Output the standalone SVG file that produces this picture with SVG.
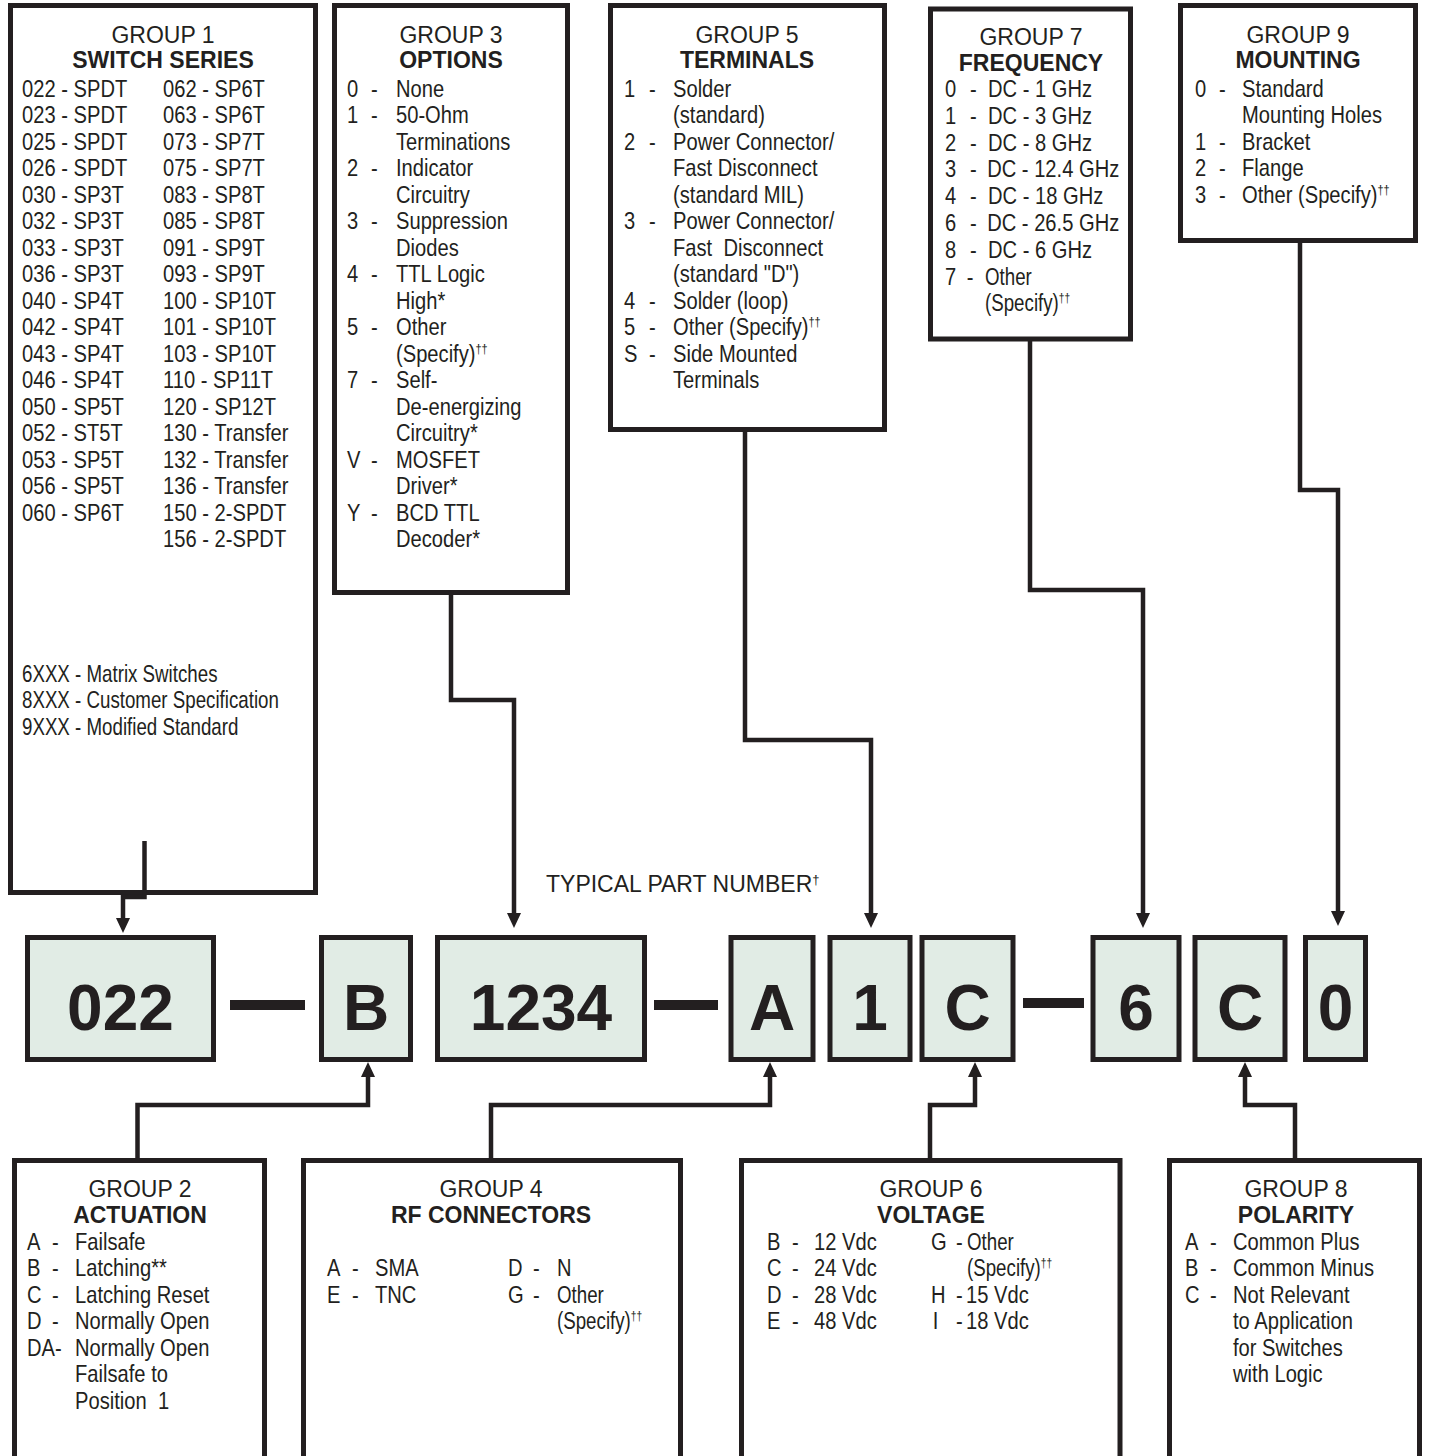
<svg xmlns="http://www.w3.org/2000/svg" width="1429" height="1456" viewBox="0 0 1429 1456">
<defs>
<style>
.box{fill:#fff;stroke:#231f20;stroke-width:5}
.pbox{fill:#e1ece5;stroke:#231f20;stroke-width:5}
.conn{fill:none;stroke:#231f20;stroke-width:4.5;stroke-linejoin:miter}
.bar{fill:#231f20}
.h{font-family:"Liberation Sans",Arial,sans-serif;font-size:23px;text-anchor:middle;fill:#231f20}
.hb{font-weight:bold}
.t{font-family:"Liberation Sans",Arial,sans-serif;font-size:24px;fill:#231f20}
.big{font-family:"Liberation Sans",Arial,sans-serif;font-weight:bold;font-size:64px;text-anchor:middle;fill:#231f20}
.cap{font-family:"Liberation Sans",Arial,sans-serif;font-size:23px;fill:#231f20}
.sup{font-size:13px}
</style>
<marker id="arr" markerUnits="userSpaceOnUse" markerWidth="15" markerHeight="14" refX="0" refY="7" orient="auto" viewBox="0 0 15 14">
<path d="M0,0 L15,7 L0,14 Z" fill="#231f20"/>
</marker>
</defs>
<rect width="1429" height="1456" fill="#fff"/>

<g id="group1">
<rect class="box" x="10.5" y="5.5" width="305" height="887"/>
<text class="h" x="163" y="43">GROUP 1</text>
<text class="h hb" x="163" y="68">SWITCH SERIES</text>
<g class="t" transform="matrix(0.84 0 0 1 3.52 0)">
<text x="22" y="97">022 - SPDT</text>
<text x="22" y="123.5">023 - SPDT</text>
<text x="22" y="150">025 - SPDT</text>
<text x="22" y="176.5">026 - SPDT</text>
<text x="22" y="203">030 - SP3T</text>
<text x="22" y="229.5">032 - SP3T</text>
<text x="22" y="256">033 - SP3T</text>
<text x="22" y="282.5">036 - SP3T</text>
<text x="22" y="309">040 - SP4T</text>
<text x="22" y="335.5">042 - SP4T</text>
<text x="22" y="362">043 - SP4T</text>
<text x="22" y="388.5">046 - SP4T</text>
<text x="22" y="415">050 - SP5T</text>
<text x="22" y="441.5">052 - ST5T</text>
<text x="22" y="468">053 - SP5T</text>
<text x="22" y="494.5">056 - SP5T</text>
<text x="22" y="521">060 - SP6T</text>
</g>
<g class="t" transform="matrix(0.84 0 0 1 26.08 0)">
<text x="163" y="97">062 - SP6T</text>
<text x="163" y="123.5">063 - SP6T</text>
<text x="163" y="150">073 - SP7T</text>
<text x="163" y="176.5">075 - SP7T</text>
<text x="163" y="203">083 - SP8T</text>
<text x="163" y="229.5">085 - SP8T</text>
<text x="163" y="256">091 - SP9T</text>
<text x="163" y="282.5">093 - SP9T</text>
<text x="163" y="309">100 - SP10T</text>
<text x="163" y="335.5">101 - SP10T</text>
<text x="163" y="362">103 - SP10T</text>
<text x="163" y="388.5">110 - SP11T</text>
<text x="163" y="415">120 - SP12T</text>
<text x="163" y="441.5">130 - Transfer</text>
<text x="163" y="468">132 - Transfer</text>
<text x="163" y="494.5">136 - Transfer</text>
<text x="163" y="521">150 - 2-SPDT</text>
<text x="163" y="547.5">156 - 2-SPDT</text>
</g>
<g class="t" transform="matrix(0.78 0 0 1 4.84 0)">
<text x="22" y="682">6XXX - Matrix Switches</text>
<text x="22" y="708.5">8XXX - Customer Specification</text>
<text x="22" y="735">9XXX - Modified Standard</text>
</g>
</g>

<g id="group3">
<rect class="box" x="334.5" y="5.5" width="233" height="587"/>
<text class="h" x="451" y="43">GROUP 3</text>
<text class="h hb" x="451" y="68">OPTIONS</text>
<g class="t" transform="matrix(0.84 0 0 1 55.52 0)">
<text x="347" y="97">0</text>
<text x="347" y="123.5">1</text>
<text x="347" y="176.5">2</text>
<text x="347" y="229.5">3</text>
<text x="347" y="282.5">4</text>
<text x="347" y="335.5">5</text>
<text x="347" y="388.5">7</text>
<text x="347" y="468">V</text>
<text x="347" y="521">Y</text>
</g>
<g class="t" transform="matrix(0.84 0 0 1 59.36 0)">
<text x="371" y="97">-</text>
<text x="371" y="123.5">-</text>
<text x="371" y="176.5">-</text>
<text x="371" y="229.5">-</text>
<text x="371" y="282.5">-</text>
<text x="371" y="335.5">-</text>
<text x="371" y="388.5">-</text>
<text x="371" y="468">-</text>
<text x="371" y="521">-</text>
</g>
<g class="t" transform="matrix(0.84 0 0 1 63.36 0)">
<text x="396" y="97">None</text>
<text x="396" y="123.5">50-Ohm</text>
<text x="396" y="150">Terminations</text>
<text x="396" y="176.5">Indicator</text>
<text x="396" y="203">Circuitry</text>
<text x="396" y="229.5">Suppression</text>
<text x="396" y="256">Diodes</text>
<text x="396" y="282.5">TTL Logic</text>
<text x="396" y="309">High*</text>
<text x="396" y="335.5">Other</text>
<text x="396" y="362">(Specify)<tspan class="sup" dy="-9">††</tspan></text>
<text x="396" y="388.5">Self-</text>
<text x="396" y="415">De-energizing</text>
<text x="396" y="441.5">Circuitry*</text>
<text x="396" y="468">MOSFET</text>
<text x="396" y="494.5">Driver*</text>
<text x="396" y="521">BCD TTL</text>
<text x="396" y="547.5">Decoder*</text>
</g>
</g>

<g id="group5">
<rect class="box" x="610.5" y="5.5" width="274" height="424"/>
<text class="h" x="747" y="43">GROUP 5</text>
<text class="h hb" x="747" y="68">TERMINALS</text>
<g class="t" transform="matrix(0.84 0 0 1 99.84 0)">
<text x="624" y="97">1</text>
<text x="624" y="150">2</text>
<text x="624" y="229.5">3</text>
<text x="624" y="309">4</text>
<text x="624" y="335.5">5</text>
<text x="624" y="362">S</text>
</g>
<g class="t" transform="matrix(0.84 0 0 1 103.84 0)">
<text x="649" y="97">-</text>
<text x="649" y="150">-</text>
<text x="649" y="229.5">-</text>
<text x="649" y="309">-</text>
<text x="649" y="335.5">-</text>
<text x="649" y="362">-</text>
</g>
<g class="t" transform="matrix(0.84 0 0 1 107.68 0)">
<text x="673" y="97">Solder</text>
<text x="673" y="123.5">(standard)</text>
<text x="673" y="150">Power Connector/</text>
<text x="673" y="176.5">Fast Disconnect</text>
<text x="673" y="203">(standard MIL)</text>
<text x="673" y="229.5">Power Connector/</text>
<text x="673" y="256" xml:space="preserve">Fast  Disconnect</text>
<text x="673" y="282.5">(standard "D")</text>
<text x="673" y="309">Solder (loop)</text>
<text x="673" y="335.5">Other (Specify)<tspan class="sup" dy="-9">††</tspan></text>
<text x="673" y="362">Side Mounted</text>
<text x="673" y="388.5">Terminals</text>
</g>
</g>

<g id="group7">
<rect class="box" x="930.5" y="9" width="200" height="330"/>
<text class="h" x="1031" y="45">GROUP 7</text>
<text class="h hb" x="1031" y="71">FREQUENCY</text>
<g class="t" transform="matrix(0.84 0 0 1 151.2 0)">
<text x="945" y="97">0</text>
<text x="945" y="123.8">1</text>
<text x="945" y="150.6">2</text>
<text x="945" y="177.4">3</text>
<text x="945" y="204.2">4</text>
<text x="945" y="231">6</text>
<text x="945" y="257.8">8</text>
<text x="945" y="284.6">7</text>
</g>
<g class="t" transform="matrix(0.84 0 0 1 155.2 0)">
<text x="970" y="97">-</text>
<text x="970" y="123.8">-</text>
<text x="970" y="150.6">-</text>
<text x="970" y="177.4">-</text>
<text x="970" y="204.2">-</text>
<text x="970" y="231">-</text>
<text x="970" y="257.8">-</text>
<text x="966" y="284.6">-</text>
</g>
<g class="t" transform="matrix(0.84 0 0 1 158.08 0)">
<text x="988" y="97">DC - 1 GHz</text>
<text x="988" y="123.8">DC - 3 GHz</text>
<text x="988" y="150.6">DC - 8 GHz</text>
<text x="987" y="177.4">DC - 12.4 GHz</text>
<text x="988" y="204.2">DC - 18 GHz</text>
<text x="987" y="231">DC - 26.5 GHz</text>
<text x="988" y="257.8">DC - 6 GHz</text>
</g>
<g class="t" transform="matrix(0.78 0 0 1 216.7 0)">
<text x="985" y="284.6">Other</text>
<text x="985" y="311.4">(Specify)<tspan class="sup" dy="-9">††</tspan></text>
</g>
</g>

<g id="group9">
<rect class="box" x="1180.5" y="5.5" width="235" height="235"/>
<text class="h" x="1298" y="43">GROUP 9</text>
<text class="h hb" x="1298" y="68">MOUNTING</text>
<g class="t" transform="matrix(0.84 0 0 1 191.2 0)">
<text x="1195" y="97">0</text>
<text x="1195" y="150">1</text>
<text x="1195" y="176.5">2</text>
<text x="1195" y="203">3</text>
</g>
<g class="t" transform="matrix(0.84 0 0 1 195.04 0)">
<text x="1219" y="97">-</text>
<text x="1219" y="150">-</text>
<text x="1219" y="176.5">-</text>
<text x="1219" y="203">-</text>
</g>
<g class="t" transform="matrix(0.84 0 0 1 198.72 0)">
<text x="1242" y="97">Standard</text>
<text x="1242" y="123.5">Mounting Holes</text>
<text x="1242" y="150">Bracket</text>
<text x="1242" y="176.5">Flange</text>
<text x="1242" y="203">Other (Specify)<tspan class="sup" dy="-9">††</tspan></text>
</g>
</g>

<g id="part-number">
<text class="cap" x="546" y="892">TYPICAL PART NUMBER<tspan class="sup" dy="-8">†</tspan></text>
<g id="pn-022"><rect class="pbox" x="27.5" y="937.5" width="186" height="122"/><text class="big" x="120.5" y="1030">022</text></g>
<rect class="bar" x="230" y="1000" width="75" height="10"/>
<g id="pn-B"><rect class="pbox" x="321.5" y="937.5" width="89" height="122"/><text class="big" x="366" y="1030">B</text></g>
<g id="pn-1234"><rect class="pbox" x="437.5" y="937.5" width="207" height="122"/><text class="big" x="541" y="1030">1234</text></g>
<rect class="bar" x="654" y="1000" width="64" height="10"/>
<g id="pn-A"><rect class="pbox" x="731" y="937.5" width="82" height="122"/><text class="big" x="772" y="1030">A</text></g>
<g id="pn-1"><rect class="pbox" x="830" y="937.5" width="80" height="122"/><text class="big" x="870" y="1030">1</text></g>
<g id="pn-C1"><rect class="pbox" x="922" y="937.5" width="91" height="122"/><text class="big" x="967.5" y="1030">C</text></g>
<rect class="bar" x="1023" y="998" width="61" height="10"/>
<g id="pn-6"><rect class="pbox" x="1093" y="937.5" width="86" height="122"/><text class="big" x="1136" y="1030">6</text></g>
<g id="pn-C2"><rect class="pbox" x="1195" y="937.5" width="90" height="122"/><text class="big" x="1240" y="1030">C</text></g>
<g id="pn-0"><rect class="pbox" x="1305.5" y="937.5" width="60" height="122"/><text class="big" x="1335.5" y="1030">0</text></g>
</g>

<g id="group2">
<rect class="box" x="14.5" y="1160.5" width="250" height="320"/>
<text class="h" x="140" y="1197">GROUP 2</text>
<text class="h hb" x="140" y="1223">ACTUATION</text>
<g class="t" transform="matrix(0.84 0 0 1 4.32 0)">
<text x="27" y="1250">A</text>
<text x="27" y="1276.5">B</text>
<text x="27" y="1303">C</text>
<text x="27" y="1329.5">D</text>
<text x="27" y="1356">DA-</text>
</g>
<g class="t" transform="matrix(0.84 0 0 1 8.32 0)">
<text x="52" y="1250">-</text>
<text x="52" y="1276.5">-</text>
<text x="52" y="1303">-</text>
<text x="52" y="1329.5">-</text>
</g>
<g class="t" transform="matrix(0.84 0 0 1 12 0)">
<text x="75" y="1250">Failsafe</text>
<text x="75" y="1276.5">Latching**</text>
<text x="75" y="1303">Latching Reset</text>
<text x="75" y="1329.5">Normally Open</text>
<text x="75" y="1356">Normally Open</text>
<text x="75" y="1382.5">Failsafe to</text>
<text x="75" y="1409" xml:space="preserve">Position  1</text>
</g>
</g>

<g id="group4">
<rect class="box" x="303.5" y="1160.5" width="377" height="320"/>
<text class="h" x="491" y="1197">GROUP 4</text>
<text class="h hb" x="491" y="1223">RF CONNECTORS</text>
<g class="t" transform="matrix(0.84 0 0 1 52.32 0)">
<text x="327" y="1276.5">A</text>
<text x="327" y="1303">E</text>
</g>
<g class="t" transform="matrix(0.84 0 0 1 56.32 0)">
<text x="352" y="1276.5">-</text>
<text x="352" y="1303">-</text>
</g>
<g class="t" transform="matrix(0.84 0 0 1 60 0)">
<text x="375" y="1276.5">SMA</text>
<text x="375" y="1303">TNC</text>
</g>
<g class="t" transform="matrix(0.84 0 0 1 81.28 0)">
<text x="508" y="1276.5">D</text>
<text x="508" y="1303">G</text>
</g>
<g class="t" transform="matrix(0.84 0 0 1 85.28 0)">
<text x="533" y="1276.5">-</text>
<text x="533" y="1303">-</text>
</g>
<g class="t" transform="matrix(0.84 0 0 1 89.12 0)">
<text x="557" y="1276.5">N</text>
</g>
<g class="t" transform="matrix(0.78 0 0 1 122.54 0)">
<text x="557" y="1303">Other</text>
<text x="557" y="1329.5">(Specify)<tspan class="sup" dy="-9">††</tspan></text>
</g>
</g>

<g id="group6">
<rect class="box" x="741.5" y="1160.5" width="378.5" height="320"/>
<text class="h" x="931" y="1197">GROUP 6</text>
<text class="h hb" x="931" y="1223">VOLTAGE</text>
<g class="t" transform="matrix(0.84 0 0 1 122.72 0)">
<text x="767" y="1250">B</text>
<text x="767" y="1276.5">C</text>
<text x="767" y="1303">D</text>
<text x="767" y="1329.5">E</text>
</g>
<g class="t" transform="matrix(0.84 0 0 1 126.72 0)">
<text x="792" y="1250">-</text>
<text x="792" y="1276.5">-</text>
<text x="792" y="1303">-</text>
<text x="792" y="1329.5">-</text>
</g>
<g class="t" transform="matrix(0.84 0 0 1 130.24 0)">
<text x="814" y="1250">12 Vdc</text>
<text x="814" y="1276.5">24 Vdc</text>
<text x="814" y="1303">28 Vdc</text>
<text x="814" y="1329.5">48 Vdc</text>
</g>
<g class="t" transform="matrix(0.84 0 0 1 148.96 0)">
<text x="931" y="1250">G</text>
<text x="931" y="1303">H</text>
<text x="933" y="1329.5">I</text>
</g>
<g class="t" transform="matrix(0.84 0 0 1 152.96 0)">
<text x="956" y="1250">-</text>
<text x="956" y="1303">-</text>
<text x="956" y="1329.5">-</text>
</g>
<g class="t" transform="matrix(0.78 0 0 1 212.74 0)">
<text x="967" y="1250">Other</text>
<text x="967" y="1276.5">(Specify)<tspan class="sup" dy="-9">††</tspan></text>
</g>
<g class="t" transform="matrix(0.84 0 0 1 154.56 0)">
<text x="966" y="1303">15 Vdc</text>
<text x="966" y="1329.5">18 Vdc</text>
</g>
</g>

<g id="group8">
<rect class="box" x="1169.5" y="1160.5" width="250" height="320"/>
<text class="h" x="1296" y="1197">GROUP 8</text>
<text class="h hb" x="1296" y="1223">POLARITY</text>
<g class="t" transform="matrix(0.84 0 0 1 189.6 0)">
<text x="1185" y="1250">A</text>
<text x="1185" y="1276.5">B</text>
<text x="1185" y="1303">C</text>
</g>
<g class="t" transform="matrix(0.84 0 0 1 193.6 0)">
<text x="1210" y="1250">-</text>
<text x="1210" y="1276.5">-</text>
<text x="1210" y="1303">-</text>
</g>
<g class="t" transform="matrix(0.84 0 0 1 197.28 0)">
<text x="1233" y="1250">Common Plus</text>
<text x="1233" y="1276.5">Common Minus</text>
<text x="1233" y="1303">Not Relevant</text>
<text x="1233" y="1329.5">to Application</text>
<text x="1233" y="1356">for Switches</text>
<text x="1233" y="1382.5">with Logic</text>
</g>
</g>

<g id="connectors">
<path class="conn" d="M144.5 841 V897 H123 V918" marker-end="url(#arr)"/>
<path class="conn" d="M451 592 V700 H514 V913" marker-end="url(#arr)"/>
<path class="conn" d="M745 430 V740 H871 V913" marker-end="url(#arr)"/>
<path class="conn" d="M1030 339 V590 H1143 V913" marker-end="url(#arr)"/>
<path class="conn" d="M1300 241 V490 H1338 V911" marker-end="url(#arr)"/>
<path class="conn" d="M137.5 1160 V1105 H368 V1077" marker-end="url(#arr)"/>
<path class="conn" d="M491 1160 V1105 H770 V1077" marker-end="url(#arr)"/>
<path class="conn" d="M930 1160 V1105 H975 V1077" marker-end="url(#arr)"/>
<path class="conn" d="M1295 1160 V1105 H1245 V1077" marker-end="url(#arr)"/>
</g>
</svg>
